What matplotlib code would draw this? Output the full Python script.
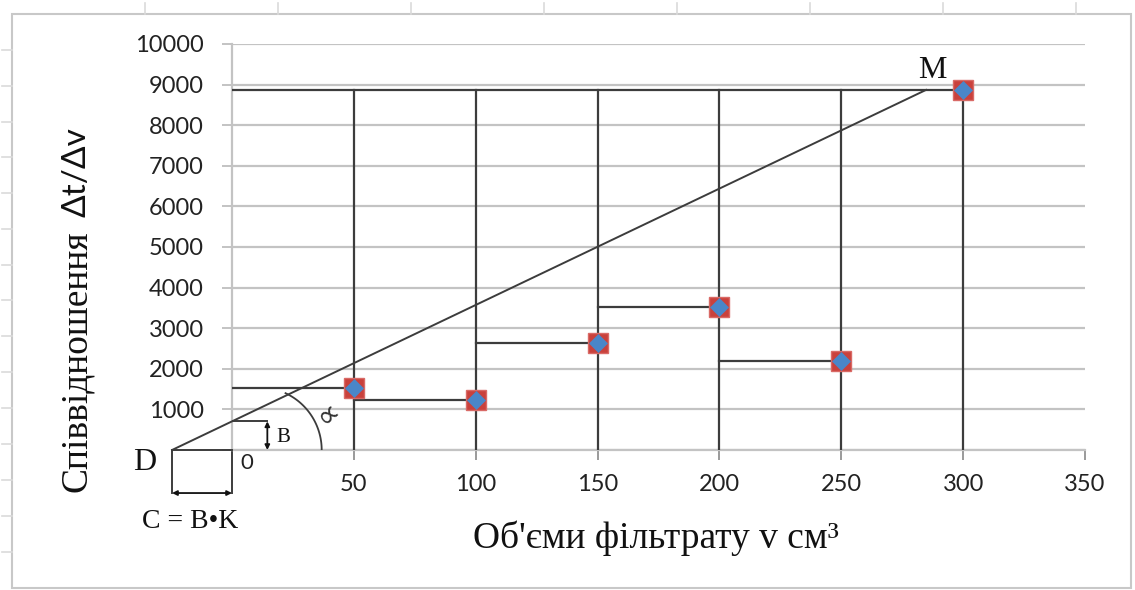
import matplotlib
matplotlib.use('Agg')
import matplotlib.pyplot as plt
import numpy as np
from matplotlib.lines import Line2D
from matplotlib.patches import Rectangle

W, H = 1135, 590

# ---- data ----
volumes = [50, 100, 150, 200, 250, 300]
ratios = [1530, 1240, 2640, 3530, 2200, 8870]
seg_start = [0, 50, 100, 150, 200, 0]
x_tick_values = [50, 100, 150, 200, 250, 300, 350]
y_grid_values = [0, 1000, 2000, 3000, 4000, 5000, 6000, 7000, 8000, 9000, 10000]
y_tick_labels = ['', '1000', '2000', '3000', '4000', '5000', '6000', '7000', '8000', '9000', '10000']
x_label = "Об'єми фільтрату v см³"
y_label_word = "Співвідношення"
y_label_sym = "Δt/Δv"
point_D_x = -24.6
point_M_x = 284.8

# ---- styles ----
grid_c = '#c3c3c3'
line_c = '#3c3c3c'
red_c = '#c9413c'
blue_c = '#4a86c8'
serif = ['Liberation Serif', 'DejaVu Serif']
sans = ['Lato', 'DejaVu Sans']

fig = plt.figure(figsize=(W / 100, H / 100), dpi=100)


def fx(px):
    return px / W


def fy(py):
    return 1 - py / H


ax = fig.add_axes([fx(232), fy(450), fx(1085) - fx(232), fy(44) - fy(450)])
ax.set_xlim(0, 350)
ax.set_ylim(0, 10000)

ax.set_yticks(y_grid_values)
ax.set_yticklabels(y_tick_labels)
ax.set_xticks(x_tick_values)
ax.set_xticklabels([str(v) for v in x_tick_values])
ax.yaxis.grid(True, color=grid_c, lw=1.6, zorder=0)
ax.set_axisbelow(True)
ax.tick_params(axis='y', length=7.2, width=1.4, color=grid_c, pad=13,
               labelsize=17, labelcolor='#222222')
ax.tick_params(axis='x', length=7.2, width=1.4, color='#9a9a9a', pad=10,
               labelsize=17, labelcolor='#222222')
for lab in ax.get_xticklabels() + ax.get_yticklabels():
    lab.set_family(sans)
for s in ['top', 'right']:
    ax.spines[s].set_visible(False)
for s in ['left', 'bottom']:
    ax.spines[s].set_color(grid_c)
    ax.spines[s].set_linewidth(1.6)

# step segments and vertical lines
top = ratios[-1]
for x0, x1, y in zip(seg_start, volumes, ratios):
    ax.plot([x0, x1], [y, y], color=line_c, lw=1.6, zorder=3)
for x in volumes:
    ax.plot([x, x], [0, top], color=line_c, lw=1.6, zorder=3)

# D-M line
ax.plot([point_D_x, point_M_x], [0, top], color=line_c, lw=1.4, zorder=3, clip_on=False)
ax.plot([point_D_x, 0], [0, 0], color=line_c, lw=1.4, zorder=3, clip_on=False)

# B bracket
b_height = top * (0 - point_D_x) / (point_M_x - point_D_x)
b_x = 14.5
ax.plot([0, b_x], [b_height, b_height], color=line_c, lw=1.4, zorder=3)
ax.annotate('', xy=(b_x, 0), xytext=(b_x, b_height),
            arrowprops=dict(arrowstyle='<|-|>', color='#111111', lw=1.3,
                            mutation_scale=7, shrinkA=0, shrinkB=0), zorder=4)

# C bracket
c_depth = -1060
ax.plot([point_D_x, point_D_x], [0, c_depth], color=line_c, lw=1.4, clip_on=False)
ax.plot([0, 0], [0, c_depth], color=line_c, lw=1.4, clip_on=False)
ax.annotate('', xy=(point_D_x, c_depth), xytext=(0, c_depth),
            arrowprops=dict(arrowstyle='<|-|>', color='#111111', lw=1.3,
                            mutation_scale=7, shrinkA=0, shrinkB=0),
            annotation_clip=False)

# angle arc (pixel-round arc)
cx, rx, ry = 11.1, 25.7, 1544
t = np.radians(np.linspace(0, 65, 60))
ax.plot(cx + rx * np.cos(t), ry * np.sin(t), color=line_c, lw=1.3, zorder=3)

# markers
ax.plot(volumes, ratios, ls='none', marker='s', ms=14.5, mfc=red_c, mec='#d96a66',
        mew=1, zorder=5)
ax.plot(volumes, ratios, ls='none', marker='D', ms=9.5, mfc=blue_c, mec=blue_c,
        mew=0.5, zorder=6)

# texts
fig.text(fx(656), fy(548), x_label, family=serif, fontsize=27, ha='center',
         va='baseline', color='#111111')
fig.text(fx(77), fy(492), y_label_word, family=serif, fontsize=27, rotation=90,
         ha='center', va='bottom', color='#111111')
fig.text(fx(77), fy(127), y_label_sym, family=sans, fontsize=24, rotation=90,
         ha='center', va='top', color='#111111')
fig.text(fx(145), fy(463), 'D', family=serif, fontsize=23, ha='center', va='center',
         color='#111111')
fig.text(fx(932), fy(70), 'M', family=serif, fontsize=23, ha='center', va='center',
         color='#111111')
fig.text(fx(190), fy(522), 'C = B•K', family=serif, fontsize=20, ha='center',
         va='center', color='#111111')
fig.text(fx(283), fy(437), 'B', family=serif, fontsize=15, ha='center', va='center',
         color='#111111')
fig.text(fx(247), fy(463), '0', family=sans, fontsize=16, ha='center', va='center',
         color='#222222')
fig.text(fx(329), fy(414), '∝', family=['DejaVu Sans'], fontsize=22, rotation=40,
         ha='center', va='center', color='#333333')

# spreadsheet frame
frame_c = '#c8c8c8'
fig.add_artist(Rectangle((fx(12), fy(588)), fx(1131) - fx(12), fy(14) - fy(588),
                         transform=fig.transFigure, fill=False, ec=frame_c, lw=1.5))
for px in [145, 278, 411, 544, 677, 810, 943, 1076]:
    fig.add_artist(Line2D([fx(px), fx(px)], [fy(3), fy(14)], transform=fig.transFigure,
                          color='#dadada', lw=1.2))
for py in [50, 86, 122, 157, 193, 229, 265, 300, 336, 372, 408, 444, 480, 516, 552]:
    fig.add_artist(Line2D([fx(2), fx(12)], [fy(py), fy(py)], transform=fig.transFigure,
                          color='#dadada', lw=1.2))

fig.savefig('out.png', dpi=100)
